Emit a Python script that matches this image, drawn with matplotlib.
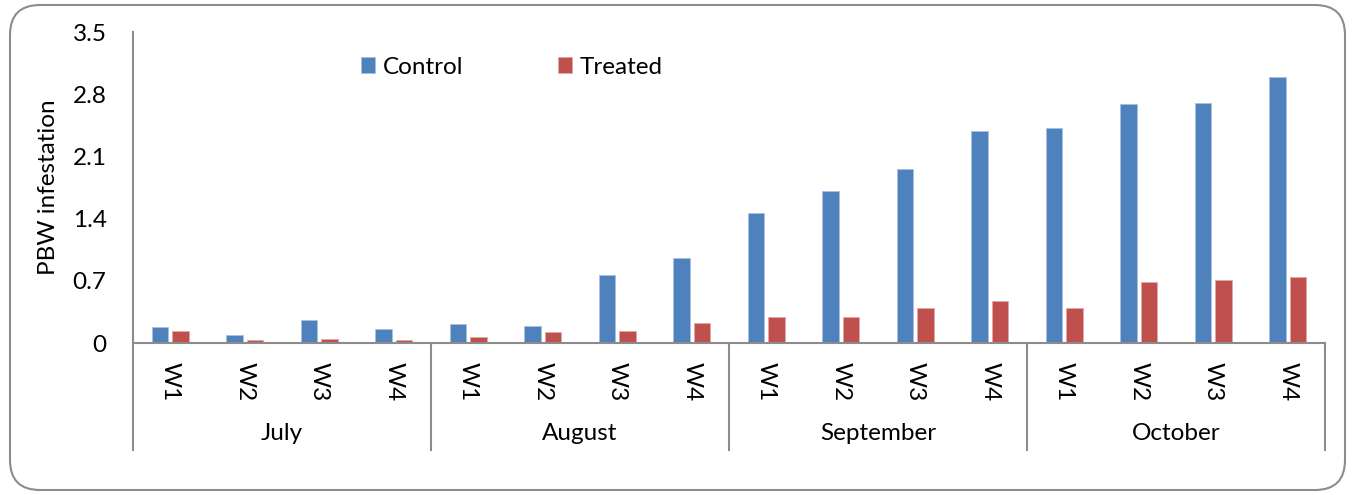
import numpy as np
import matplotlib
matplotlib.use("Agg")
import matplotlib.pyplot as plt
from matplotlib.patches import FancyBboxPatch
from matplotlib.transforms import blended_transform_factory

plt.rcParams['font.family'] = ['Lato', 'DejaVu Sans']

months = ["July", "August", "September", "October"]
weeks = ["W1", "W2", "W3", "W4"]
control = [0.18, 0.09, 0.255, 0.16,
           0.21, 0.195, 0.765, 0.955,
           1.46, 1.715, 1.96, 2.385,
           2.415, 2.695, 2.70, 2.995]
treated = [0.135, 0.03, 0.045, 0.035,
           0.07, 0.125, 0.13, 0.23,
           0.29, 0.29, 0.39, 0.47,
           0.39, 0.69, 0.705, 0.74]

blue = "#4F81BD"
red = "#C0504D"
grey = "#8C8C8C"
fs = 17.5

fig = plt.figure(figsize=(13.55, 4.95), dpi=100)

# rounded chart frame
frame = FancyBboxPatch((0.10, 0.05), 13.35, 4.85,
                       boxstyle="round,pad=0,rounding_size=0.3",
                       transform=fig.dpi_scale_trans, fill=False,
                       edgecolor=grey, linewidth=1.5)
fig.patches.append(frame)

ax = fig.add_axes([133 / 1355, (495 - 343) / 495, 1192 / 1355, 311 / 495])

n = len(control)
x = np.arange(n)
w = 0.22
ax.bar(x - 0.14, control, width=w, color=blue, edgecolor="#A9C0DE", linewidth=0.6, label="Control")
ax.bar(x + 0.14, treated, width=w, color=red, edgecolor="#E0A8A6", linewidth=0.6, label="Treated")

ax.set_xlim(-0.5, n - 0.5)
ax.set_ylim(0, 3.5)
ax.set_yticks(np.arange(0, 3.51, 0.7))
ax.set_yticklabels(["0", "0.7", "1.4", "2.1", "2.8", "3.5"])
ax.tick_params(axis='y', length=0, pad=19, labelsize=fs)
ax.set_xticks([])
ax.set_ylabel("PBW infestation", fontsize=fs, labelpad=10)

for s in ["top", "right", "left"]:
    ax.spines[s].set_visible(False)
ax.spines["bottom"].set_color(grey)
ax.spines["bottom"].set_linewidth(1.5)

tr = blended_transform_factory(ax.transData, ax.transAxes)
low = -0.345
# y axis line extended into the category area
ax.plot([-0.5, -0.5], [low, 1.0], transform=tr, color=grey, lw=1.5, clip_on=False)
# month separators
for k in range(1, len(months) + 1):
    xs = k * 4 - 0.5
    ax.plot([xs, xs], [low, 0], transform=tr, color=grey, lw=1.5, clip_on=False)

for i in range(n):
    ax.text(x[i], -0.125, weeks[i % 4], rotation=-90, ha='center', va='center',
            fontsize=fs, transform=tr)
for k, m in enumerate(months):
    ax.text(k * 4 + 1.5, -0.29, m, ha='center', va='center', fontsize=fs, transform=tr)

ax.legend(loc='center left', bbox_to_anchor=(0.191, 0.887), ncol=2, frameon=False,
          fontsize=fs, handlelength=0.6, handleheight=0.6, handletextpad=0.3,
          columnspacing=3.9, borderpad=0, borderaxespad=0)

fig.savefig("out.png", dpi=100)
